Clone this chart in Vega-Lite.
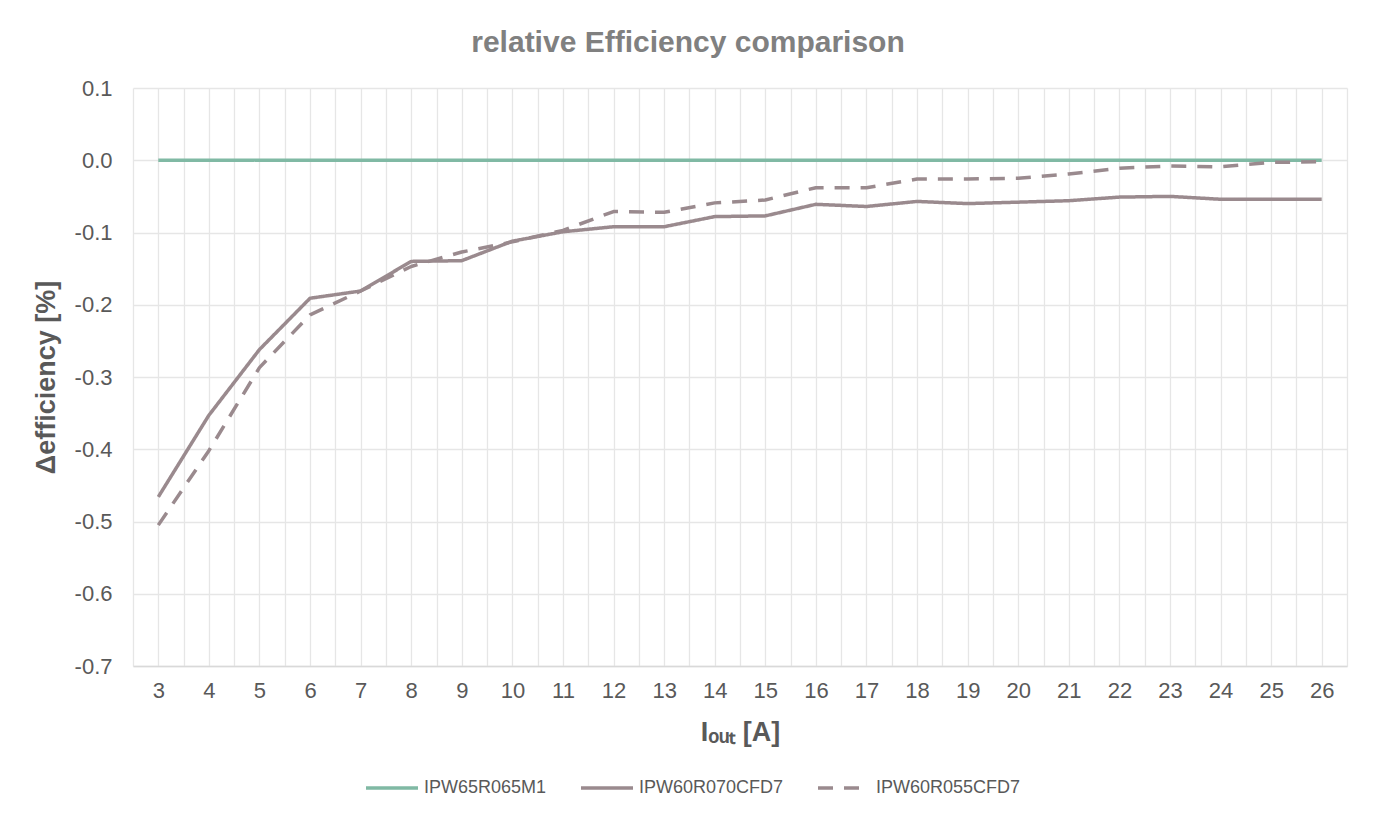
{
  "$schema": "https://vega.github.io/schema/vega-lite/v6.json",
  "autosize": {"type": "none"},
  "width": 1214,
  "height": 578,
  "padding": {"left": 133, "top": 88, "right": 26, "bottom": 152},
  "background": "#ffffff",
  "title": {
    "text": "relative Efficiency comparison",
    "anchor": "middle",
    "frame": "group",
    "dx": -52,
    "offset": 19,
    "font": "Liberation Sans",
    "fontSize": 30,
    "fontWeight": "bold",
    "color": "#808080"
  },
  "data": {
    "values": [
      {"I": 3, "series": "IPW65R065M1", "eff": 0}, {"I": 4, "series": "IPW65R065M1", "eff": 0},
      {"I": 5, "series": "IPW65R065M1", "eff": 0}, {"I": 6, "series": "IPW65R065M1", "eff": 0},
      {"I": 7, "series": "IPW65R065M1", "eff": 0}, {"I": 8, "series": "IPW65R065M1", "eff": 0},
      {"I": 9, "series": "IPW65R065M1", "eff": 0}, {"I": 10, "series": "IPW65R065M1", "eff": 0},
      {"I": 11, "series": "IPW65R065M1", "eff": 0}, {"I": 12, "series": "IPW65R065M1", "eff": 0},
      {"I": 13, "series": "IPW65R065M1", "eff": 0}, {"I": 14, "series": "IPW65R065M1", "eff": 0},
      {"I": 15, "series": "IPW65R065M1", "eff": 0}, {"I": 16, "series": "IPW65R065M1", "eff": 0},
      {"I": 17, "series": "IPW65R065M1", "eff": 0}, {"I": 18, "series": "IPW65R065M1", "eff": 0},
      {"I": 19, "series": "IPW65R065M1", "eff": 0}, {"I": 20, "series": "IPW65R065M1", "eff": 0},
      {"I": 21, "series": "IPW65R065M1", "eff": 0}, {"I": 22, "series": "IPW65R065M1", "eff": 0},
      {"I": 23, "series": "IPW65R065M1", "eff": 0}, {"I": 24, "series": "IPW65R065M1", "eff": 0},
      {"I": 25, "series": "IPW65R065M1", "eff": 0}, {"I": 26, "series": "IPW65R065M1", "eff": 0},
      {"I": 3, "series": "IPW60R070CFD7", "eff": -0.466}, {"I": 4, "series": "IPW60R070CFD7", "eff": -0.353},
      {"I": 5, "series": "IPW60R070CFD7", "eff": -0.262}, {"I": 6, "series": "IPW60R070CFD7", "eff": -0.191},
      {"I": 7, "series": "IPW60R070CFD7", "eff": -0.181}, {"I": 8, "series": "IPW60R070CFD7", "eff": -0.140},
      {"I": 9, "series": "IPW60R070CFD7", "eff": -0.139}, {"I": 10, "series": "IPW60R070CFD7", "eff": -0.112},
      {"I": 11, "series": "IPW60R070CFD7", "eff": -0.099}, {"I": 12, "series": "IPW60R070CFD7", "eff": -0.092},
      {"I": 13, "series": "IPW60R070CFD7", "eff": -0.092}, {"I": 14, "series": "IPW60R070CFD7", "eff": -0.078},
      {"I": 15, "series": "IPW60R070CFD7", "eff": -0.077}, {"I": 16, "series": "IPW60R070CFD7", "eff": -0.061},
      {"I": 17, "series": "IPW60R070CFD7", "eff": -0.064}, {"I": 18, "series": "IPW60R070CFD7", "eff": -0.057},
      {"I": 19, "series": "IPW60R070CFD7", "eff": -0.060}, {"I": 20, "series": "IPW60R070CFD7", "eff": -0.058},
      {"I": 21, "series": "IPW60R070CFD7", "eff": -0.056}, {"I": 22, "series": "IPW60R070CFD7", "eff": -0.051},
      {"I": 23, "series": "IPW60R070CFD7", "eff": -0.050}, {"I": 24, "series": "IPW60R070CFD7", "eff": -0.054},
      {"I": 25, "series": "IPW60R070CFD7", "eff": -0.054}, {"I": 26, "series": "IPW60R070CFD7", "eff": -0.054},
      {"I": 3, "series": "IPW60R055CFD7", "eff": -0.505}, {"I": 4, "series": "IPW60R055CFD7", "eff": -0.402},
      {"I": 5, "series": "IPW60R055CFD7", "eff": -0.287}, {"I": 6, "series": "IPW60R055CFD7", "eff": -0.214},
      {"I": 7, "series": "IPW60R055CFD7", "eff": -0.181}, {"I": 8, "series": "IPW60R055CFD7", "eff": -0.147},
      {"I": 9, "series": "IPW60R055CFD7", "eff": -0.127}, {"I": 10, "series": "IPW60R055CFD7", "eff": -0.113},
      {"I": 11, "series": "IPW60R055CFD7", "eff": -0.097}, {"I": 12, "series": "IPW60R055CFD7", "eff": -0.071},
      {"I": 13, "series": "IPW60R055CFD7", "eff": -0.072}, {"I": 14, "series": "IPW60R055CFD7", "eff": -0.059},
      {"I": 15, "series": "IPW60R055CFD7", "eff": -0.055}, {"I": 16, "series": "IPW60R055CFD7", "eff": -0.038},
      {"I": 17, "series": "IPW60R055CFD7", "eff": -0.038}, {"I": 18, "series": "IPW60R055CFD7", "eff": -0.026},
      {"I": 19, "series": "IPW60R055CFD7", "eff": -0.026}, {"I": 20, "series": "IPW60R055CFD7", "eff": -0.025},
      {"I": 21, "series": "IPW60R055CFD7", "eff": -0.019}, {"I": 22, "series": "IPW60R055CFD7", "eff": -0.011},
      {"I": 23, "series": "IPW60R055CFD7", "eff": -0.008}, {"I": 24, "series": "IPW60R055CFD7", "eff": -0.009},
      {"I": 25, "series": "IPW60R055CFD7", "eff": -0.003}, {"I": 26, "series": "IPW60R055CFD7", "eff": -0.002}
    ]
  },
  "mark": {"type": "line", "strokeWidth": 3.5, "strokeCap": "butt", "strokeJoin": "round"},
  "encoding": {
    "x": {
      "field": "I",
      "type": "quantitative",
      "scale": {"domain": [2.5, 26.5], "nice": false, "zero": false},
      "axis": {
        "title": "Iₒᵤₜ [A]",
        "values": [2.5, 3, 3.5, 4, 4.5, 5, 5.5, 6, 6.5, 7, 7.5, 8, 8.5, 9, 9.5, 10, 10.5, 11, 11.5, 12, 12.5, 13, 13.5, 14, 14.5, 15, 15.5, 16, 16.5, 17, 17.5, 18, 18.5, 19, 19.5, 20, 20.5, 21, 21.5, 22, 22.5, 23, 23.5, 24, 24.5, 25, 25.5, 26, 26.5],
        "labelExpr": "datum.value % 1 == 0 ? format(datum.value, 'd') : ''",
        "labelOverlap": false,
        "labelFlush": false,
        "ticks": false,
        "labelPadding": 14,
        "titlePadding": 18,
        "domainColor": "#d9d9d9",
        "domainWidth": 1.5
      }
    },
    "y": {
      "field": "eff",
      "type": "quantitative",
      "scale": {"domain": [-0.7, 0.1], "nice": false, "zero": false},
      "axis": {
        "title": "Δefficiency [%]",
        "values": [-0.7, -0.6, -0.5, -0.4, -0.3, -0.2, -0.1, 0, 0.1],
        "labelExpr": "replace(format(datum.value, '.1f'), '−', '-')",
        "ticks": false,
        "domain": false,
        "labelPadding": 21,
        "titlePadding": 14
      }
    },
    "color": {
      "field": "series",
      "type": "nominal",
      "sort": ["IPW65R065M1", "IPW60R070CFD7", "IPW60R055CFD7"],
      "scale": {"domain": ["IPW65R065M1", "IPW60R070CFD7", "IPW60R055CFD7"], "range": ["#80b9a4", "#9a8a8e", "#9a8a8e"]},
      "legend": {
        "title": null,
        "orient": "none",
        "legendX": 231,
        "legendY": 672,
        "direction": "horizontal",
        "symbolType": "stroke",
        "symbolSize": 2704,
        "symbolStrokeWidth": 3.5,
        "labelFont": "Liberation Sans",
        "labelFontSize": 18,
        "labelColor": "#595959",
        "labelOffset": 4,
        "columnPadding": 27
      }
    },
    "strokeDash": {
      "field": "series",
      "type": "nominal",
      "sort": ["IPW65R065M1", "IPW60R070CFD7", "IPW60R055CFD7"],
      "scale": {"domain": ["IPW65R065M1", "IPW60R070CFD7", "IPW60R055CFD7"], "range": [[1, 0], [1, 0], [15, 11]]},
      "legend": {
        "title": null,
        "orient": "none",
        "legendX": 231,
        "legendY": 672,
        "direction": "horizontal",
        "symbolType": "stroke",
        "symbolSize": 2704,
        "symbolStrokeWidth": 3.5,
        "labelFont": "Liberation Sans",
        "labelFontSize": 18,
        "labelColor": "#595959",
        "labelOffset": 4,
        "columnPadding": 27
      }
    }
  },
  "config": {
    "view": {"stroke": null},
    "font": "Liberation Sans",
    "axis": {
      "gridColor": "#e6e6e6",
      "gridWidth": 1.3,
      "labelFont": "Liberation Sans",
      "labelFontSize": 22,
      "labelColor": "#595959",
      "titleFont": "Liberation Sans",
      "titleFontSize": 27,
      "titleFontWeight": "bold",
      "titleColor": "#595959"
    }
  }
}
